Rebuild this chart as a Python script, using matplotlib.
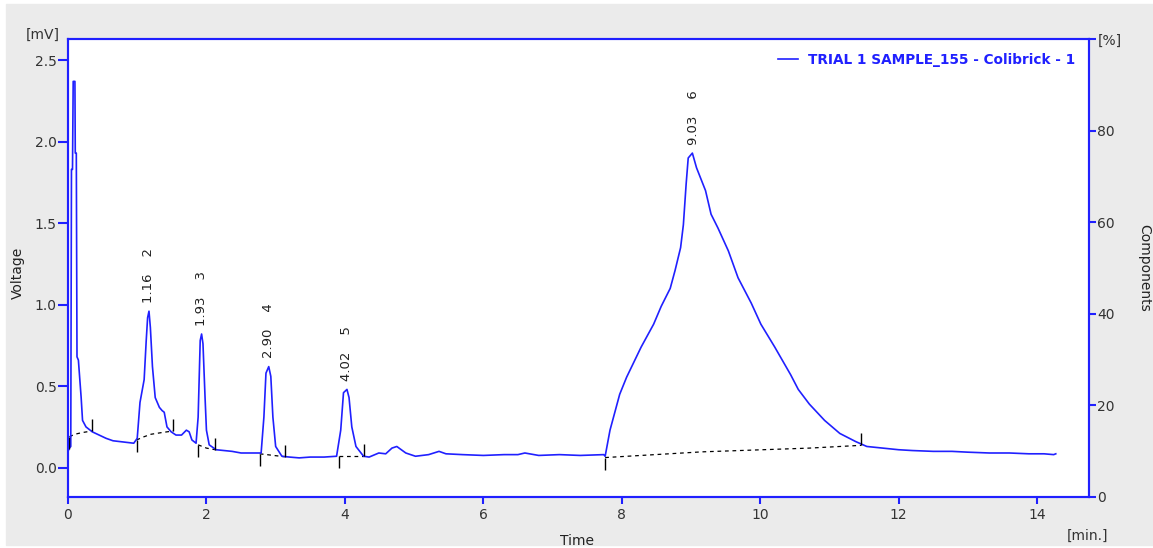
import numpy as np
import matplotlib.pyplot as plt
from matplotlib.patches import Rectangle

# detector trace (time in min, signal in mV)
time_min = [0.00, 0.02, 0.04, 0.05, 0.065, 0.075, 0.10, 0.105, 0.12, 0.13, 0.15,
            0.19, 0.21, 0.26, 0.35, 0.45, 0.55, 0.65, 0.75, 0.85, 0.95, 1.00,
            1.04, 1.10, 1.13, 1.15, 1.17, 1.19, 1.22, 1.26, 1.32, 1.36, 1.39, 1.43,
            1.49, 1.56, 1.64, 1.71, 1.75, 1.79, 1.85, 1.88, 1.91, 1.93, 1.95, 1.98,
            2.00, 2.04, 2.14, 2.25, 2.37, 2.50, 2.62, 2.79, 2.83, 2.86, 2.90, 2.93,
            2.96, 3.00, 3.09, 3.20, 3.34, 3.50, 3.70, 3.88, 3.94, 3.98, 4.03, 4.06,
            4.10, 4.16, 4.27, 4.35, 4.49, 4.59, 4.68, 4.75, 4.88, 5.02, 5.21, 5.36,
            5.46, 5.70, 6.00, 6.30, 6.50, 6.60, 6.80, 7.10, 7.40, 7.74, 7.76,
            7.83, 7.97, 8.07, 8.28, 8.46, 8.57, 8.70, 8.77, 8.85, 8.89, 8.93, 8.96,
            9.02, 9.08, 9.21, 9.29, 9.39, 9.54, 9.68, 9.87, 10.01, 10.21, 10.44,
            10.55, 10.71, 10.93, 11.15, 11.38, 11.54, 11.77, 12.00, 12.20, 12.50,
            12.77, 13.00, 13.31, 13.60, 13.88, 14.10, 14.24, 14.27]
voltage_mv = [0.10, 0.12, 0.13, 1.83, 1.83, 2.37, 2.37, 1.93, 1.93, 0.68, 0.66,
              0.43, 0.29, 0.25, 0.22, 0.20, 0.18, 0.165, 0.16, 0.155, 0.15, 0.18,
              0.40, 0.54, 0.78, 0.92, 0.96, 0.86, 0.62, 0.43, 0.37, 0.35, 0.34, 0.25,
              0.22, 0.20, 0.20, 0.23, 0.22, 0.17, 0.15, 0.31, 0.78, 0.82, 0.76, 0.43,
              0.23, 0.14, 0.11, 0.105, 0.10, 0.09, 0.09, 0.09, 0.31, 0.58, 0.62, 0.56,
              0.31, 0.13, 0.07, 0.065, 0.06, 0.065, 0.065, 0.07, 0.23, 0.46, 0.48, 0.43,
              0.25, 0.13, 0.07, 0.065, 0.09, 0.085, 0.12, 0.13, 0.09, 0.07, 0.08, 0.10,
              0.085, 0.08, 0.075, 0.08, 0.08, 0.09, 0.075, 0.08, 0.075, 0.08, 0.07,
              0.23, 0.45, 0.555, 0.74, 0.88, 0.99, 1.10, 1.21, 1.35, 1.49, 1.74, 1.90,
              1.93, 1.84, 1.70, 1.555, 1.47, 1.33, 1.165, 1.01, 0.88, 0.74, 0.57,
              0.48, 0.39, 0.29, 0.21, 0.16, 0.13, 0.12, 0.11, 0.105, 0.10,
              0.10, 0.095, 0.09, 0.09, 0.085, 0.085, 0.08, 0.085]

# integration baselines, one per peak
base_times = [[0.02, 0.10, 0.20, 0.35],
              [0.99, 1.10, 1.20, 1.35, 1.52],
              [1.88, 2.00, 2.13],
              [2.77, 3.13],
              [3.91, 4.27],
              [7.76, 9.16, 10.71, 11.46]]
base_values = [[0.19, 0.205, 0.215, 0.225],
               [0.17, 0.19, 0.205, 0.215, 0.225],
               [0.14, 0.12, 0.11],
               [0.085, 0.067],
               [0.073, 0.073],
               [0.062, 0.097, 0.12, 0.137]]

# labelled peaks: retention time and peak number
peak_rt = [1.16, 1.93, 2.90, 4.02, 9.03]
peak_no = [2, 3, 4, 5, 6]

blue = '#2020ff'
fig = plt.figure(figsize=(11.53, 5.48), dpi=100, facecolor='white')
fig.patches.append(Rectangle((6 / 1153, 3 / 548), 1, 1 - 7 / 548, transform=fig.transFigure,
                             color='#ebebeb', zorder=-10))
ax = fig.add_axes([68 / 1153, 51 / 548, 1021 / 1153, 458 / 548])
ax.set_facecolor('white')

t = np.array(time_min)
v = np.array(voltage_mv)
ax.plot(t, v, color=blue, lw=1.2, label='TRIAL 1 SAMPLE_155 - Colibrick - 1', zorder=3)

tick_len = 0.075
for bt, bv in zip(base_times, base_values):
    ax.plot(bt, bv, color='black', lw=0.9, ls=(0, (3, 3)), zorder=2)
    ax.vlines(bt[0], bv[0] - tick_len, bv[0], color='black', lw=1.0, zorder=4)
    ax.vlines(bt[-1], bv[-1], bv[-1] + tick_len, color='black', lw=1.0, zorder=4)

for rt, no in zip(peak_rt, peak_no):
    win = (t > rt - 0.12) & (t < rt + 0.12)
    top = v[win].max()
    ax.annotate(f'{rt:.2f}    {no}', (rt, top), xytext=(0, 6), textcoords='offset points',
                rotation=90, ha='center', va='bottom', fontsize=9.5, color='#222222')

ax.set_xlim(0, 14.75)
ax.set_ylim(-0.18, 2.63)
ax.set_xticks(np.arange(0, 15, 2))
ax.set_yticks([0, 0.5, 1.0, 1.5, 2.0, 2.5])
ax.set_yticklabels(['0.0', '0.5', '1.0', '1.5', '2.0', '2.5'])
for s in ax.spines.values():
    s.set_color(blue)
    s.set_linewidth(1.5)
ax.tick_params(axis='y', direction='out', length=7, width=1.5, color=blue,
               labelsize=10, labelcolor='#333333', pad=1)
ax.tick_params(axis='x', direction='out', length=5, width=1.5, color=blue,
               labelsize=10, labelcolor='#333333', pad=3)

ax2 = ax.twinx()
ax2.set_ylim(0, 100)
ax2.set_yticks([0, 20, 40, 60, 80, 100])
ax2.set_yticklabels(['0', '20', '40', '60', '80', '[%]'])
for s in ax2.spines.values():
    s.set_color(blue)
    s.set_linewidth(1.5)
ax2.tick_params(axis='y', direction='out', length=5, width=1.5, color=blue,
                labelsize=10, labelcolor='#333333', pad=1)

leg = ax.legend(loc='upper right', frameon=False, handlelength=1.5, handletextpad=0.75,
                borderaxespad=0.6, prop={'weight': 'bold', 'size': 9.8})
for txt in leg.get_texts():
    txt.set_color(blue)

fig.text(43 / 1153, 1 - 35 / 548, '[mV]', ha='center', va='center', fontsize=10, color='#333333')
fig.text(18 / 1153, 1 - 273 / 548, 'Voltage', rotation=90, ha='center', va='center',
         fontsize=10, color='#222222')
fig.text(1144 / 1153, 1 - 268 / 548, 'Components', rotation=270, ha='center', va='center',
         fontsize=10, color='#222222')
fig.text(577 / 1153, 1 - 541 / 548, 'Time', ha='center', va='center', fontsize=10, color='#222222')
fig.text(1088 / 1153, 1 - 536 / 548, '[min.]', ha='center', va='center', fontsize=10, color='#333333')

fig.savefig('out.png', dpi=100, facecolor=fig.get_facecolor())
